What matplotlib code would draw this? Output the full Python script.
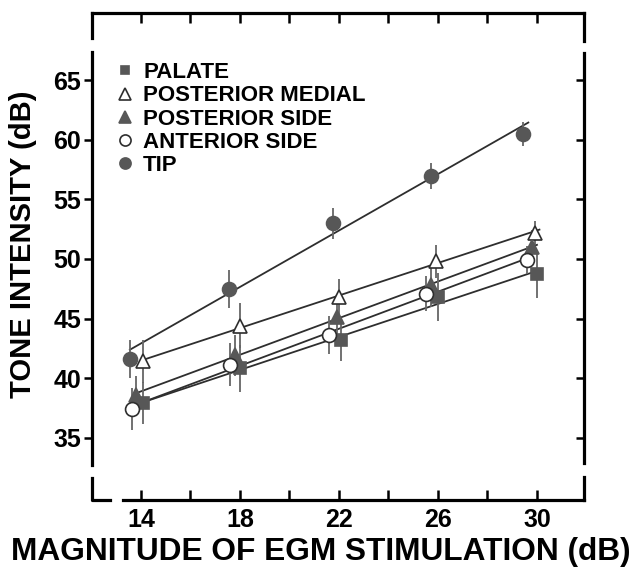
import numpy as np
import matplotlib
matplotlib.use('Agg')
from matplotlib import pyplot as plt
from matplotlib.lines import Line2D
from matplotlib.ticker import MultipleLocator

plt.rcParams['font.family'] = ['Liberation Sans', 'DejaVu Sans']

# data (x is slightly jittered per series, as in the original)
labels = ['PALATE', 'POSTERIOR MEDIAL', 'POSTERIOR SIDE', 'ANTERIOR SIDE', 'TIP']

palate_x = [14.1, 18.0, 22.1, 26.0, 30.0]
palate_y = [37.9, 40.8, 43.2, 46.8, 48.7]
palate_err = [1.8, 2.0, 1.8, 2.0, 2.0]

post_medial_x = [14.1, 18.0, 22.0, 25.9, 29.9]
post_medial_y = [41.4, 44.4, 46.8, 49.8, 52.2]
post_medial_err = [1.8, 1.9, 1.5, 1.4, 1.0]

post_side_x = [13.8, 17.8, 21.9, 25.7, 29.8]
post_side_y = [38.6, 41.9, 45.1, 47.8, 51.0]
post_side_err = [1.6, 1.7, 1.6, 1.8, 1.4]

ant_side_x = [13.65, 17.6, 21.6, 25.5, 29.6]
ant_side_y = [37.4, 41.1, 43.6, 47.1, 49.9]
ant_side_err = [1.8, 1.8, 1.6, 1.5, 1.2]

tip_x = [13.55, 17.55, 21.75, 25.7, 29.45]
tip_y = [41.6, 47.5, 53.0, 57.0, 60.5]
tip_err = [1.6, 1.6, 1.3, 1.1, 1.0]

x_ticks = [14, 18, 22, 26, 30]
y_ticks = [35, 40, 45, 50, 55, 60, 65]

series = [
    (palate_x, palate_y, palate_err),
    (post_medial_x, post_medial_y, post_medial_err),
    (post_side_x, post_side_y, post_side_err),
    (ant_side_x, ant_side_y, ant_side_err),
    (tip_x, tip_y, tip_err),
]

gray = '#575757'
dark = '#2e2e2e'
# marker, filled?, size
styles = [('s', True, 8), ('^', False, 10), ('^', True, 10), ('o', False, 10), ('o', True, 10)]

xmin, xmax = 12.02, 31.9
ymin, ymax = 29.75, 70.67

fig = plt.figure(figsize=(6.35, 5.74), dpi=100)
ax = fig.add_axes([92 / 635, 1 - 500 / 574, 492 / 635, 487 / 574])

for (xs, ys, es), (m, filled, ms) in zip(series, styles):
    xs = np.array(xs)
    ys = np.array(ys)
    # regression line through the points
    k, b = np.polyfit(xs, ys, 1)
    xl = np.array([xs.min(), xs.max() + 0.2])
    ax.plot(xl, k * xl + b, color=dark, lw=1.3, zorder=2)
    ax.errorbar(xs, ys, yerr=es, fmt='none', ecolor='#666666', elinewidth=1.3, zorder=3)
    ax.plot(xs, ys, ls='none', marker=m, markersize=ms,
            markerfacecolor=gray if filled else 'white',
            markeredgecolor=gray if filled else dark, markeredgewidth=1.2, zorder=4)

ax.set_xlim(xmin, xmax)
ax.set_ylim(ymin, ymax)

ax.set_xticks(x_ticks)
ax.xaxis.set_minor_locator(MultipleLocator(2))
ax.set_yticks(y_ticks)

ax.tick_params(axis='x', which='both', direction='in', length=7, width=1.8,
               top=True, labelsize=18, pad=6)
# right ticks point inward; left ones are drawn outward below
ax.tick_params(axis='y', which='both', direction='in', length=6, width=1.8,
               labelsize=18, pad=8, left=False, right=True)
for lab in ax.get_xticklabels() + ax.get_yticklabels():
    lab.set_fontweight('bold')

# broken frame
lw = 2.3
for s in ax.spines.values():
    s.set_linewidth(lw)
ax.spines['left'].set_bounds(32.7, 67.4)
ax.spines['right'].set_bounds(32.9, 67.3)
ax.spines['bottom'].set_bounds(13.27, xmax)
kw = dict(color='black', lw=lw, clip_on=False, solid_capstyle='projecting', zorder=5)
ax.plot([xmin, xmin], [68.6, ymax], **kw)
ax.plot([xmax, xmax], [68.3, ymax], **kw)
ax.plot([xmin, xmin, 12.73], [31.6, ymin, ymin], **kw)
ax.plot([xmax, xmax], [31.7, ymin], **kw)
# left ticks stick out of the frame
ax.plot(np.full(len(y_ticks), xmin), y_ticks, ls='none', marker=0, markersize=6,
        markeredgewidth=1.8, color='black', clip_on=False, zorder=5)

ax.set_xlabel('MAGNITUDE OF EGM STIMULATION (dB)', fontsize=22.8, fontweight='bold')
ax.xaxis.set_label_coords(0.465, -0.107)
ax.xaxis.label.set_va('center')
ax.set_ylabel('TONE INTENSITY (dB)', fontsize=21, fontweight='bold')
ax.yaxis.set_label_coords(-0.14, 0.525)
ax.yaxis.label.set_va('center')

handles = []
for (m, filled, ms) in styles:
    handles.append(Line2D([], [], ls='none', marker=m, markersize=ms * 0.8,
                          markerfacecolor=gray if filled else 'white',
                          markeredgecolor=gray if filled else dark, markeredgewidth=1.2))
leg = ax.legend(handles, labels, loc='upper left', bbox_to_anchor=(0.052, 0.899),
                frameon=False, handlelength=0.7, handletextpad=0.45, labelspacing=0.1,
                borderpad=0, borderaxespad=0, prop={'size': 16, 'weight': 'bold'})

fig.savefig('out.png', dpi=100)
